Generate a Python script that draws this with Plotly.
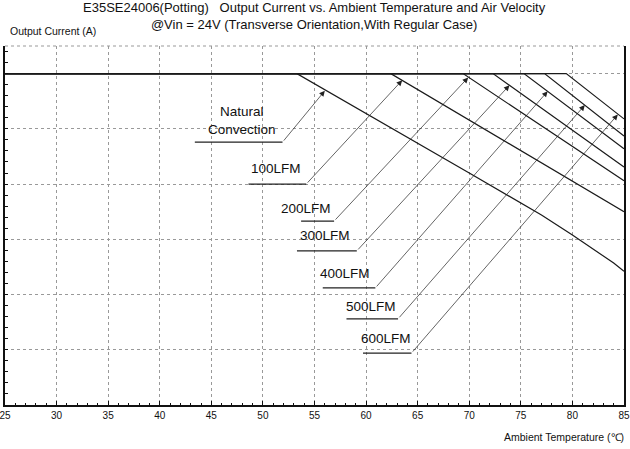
import plotly.graph_objects as go

# derating curves: ambient temperature (C) vs output current (A)
series_names = ['Natural Convection', '100LFM', '200LFM', '300LFM', '400LFM', '500LFM', '600LFM']
natural_t = [25, 53.3, 70, 74, 77, 80, 82, 84, 85]
natural_i = [6, 6, 4.2, 3.77, 3.44, 3.08, 2.83, 2.57, 2.42]
lfm100_t = [25, 62.4, 85]
lfm100_i = [6, 6, 3.5]
lfm200_t = [25, 69.4, 85]
lfm200_i = [6, 6, 4.06]
lfm300_t = [25, 72.3, 85]
lfm300_i = [6, 6, 4.31]
lfm400_t = [25, 75.3, 85]
lfm400_i = [6, 6, 4.64]
lfm500_t = [25, 77.3, 85]
lfm500_i = [6, 6, 4.87]
lfm600_t = [25, 79.4, 85]
lfm600_i = [6, 6, 5.18]

x_ticks = [25, 30, 35, 40, 45, 50, 55, 60, 65, 70, 75, 80, 85]

curves = [(natural_t, natural_i), (lfm100_t, lfm100_i), (lfm200_t, lfm200_i),
          (lfm300_t, lfm300_i), (lfm400_t, lfm400_i), (lfm500_t, lfm500_i),
          (lfm600_t, lfm600_i)]

# label callouts: text position, underline (x0, x1, y), arrow tip on curve
label_text = ['Natural<br>Convection', '100LFM', '200LFM', '300LFM', '400LFM', '500LFM', '600LFM']
label_pos = [(48.0, 5.16), (51.3, 4.28), (54.2, 3.55), (56.0, 3.06), (58.0, 2.39), (60.5, 1.79), (61.9, 1.20)]
underline = [(43.4, 51.9, 4.76), (48.6, 54.2, 4.0), (53.7, 56.9, 3.33), (53.3, 59.1, 2.79),
             (55.8, 60.9, 2.12), (58.1, 63.1, 1.56), (59.7, 64.4, 0.94)]
arrow_tip = [(56.0, 5.69), (63.5, 5.88), (69.9, 5.93), (73.9, 5.79), (77.6, 5.68), (81.2, 5.43), (84.4, 5.26)]

FONT = 'Liberation Sans, Arial, sans-serif'

fig = go.Figure()
for name, (t, i) in zip(series_names, curves):
    fig.add_trace(go.Scatter(x=t, y=i, mode='lines', name=name,
                             line=dict(color='#1a1a1a', width=1.2), showlegend=False))

annotations = []
shapes = []
for txt, (lx, ly), (u0, u1, uy), (ax_, ay_) in zip(label_text, label_pos, underline, arrow_tip):
    annotations.append(dict(x=lx, y=ly, xref='x', yref='y', text=txt, showarrow=False,
                            font=dict(family=FONT, size=13.5, color='#111')))
    shapes.append(dict(type='line', xref='x', yref='y', x0=u0, x1=u1, y0=uy, y1=uy,
                       line=dict(color='#222', width=1.2)))
    annotations.append(dict(x=ax_, y=ay_, xref='x', yref='y', ax=u1, ay=uy, axref='x', ayref='y',
                            text='', showarrow=True, arrowhead=2, arrowsize=1.6, arrowwidth=0.7,
                            arrowcolor='#222', standoff=0, startstandoff=0))

annotations.append(dict(x=0.5, y=1.083, xref='paper', yref='paper', showarrow=False,
                        xanchor='center', yanchor='middle',
                        text='E35SE24006(Potting)   Output Current vs. Ambient Temperature and Air Velocity'
                             '<br>@Vin = 24V (Transverse Orientation,With Regular Case)',
                        font=dict(family=FONT, size=13, color='#111'), align='center'))
annotations.append(dict(x=0.005, y=1.042, xref='paper', yref='paper', showarrow=False,
                        xanchor='left', yanchor='middle', text='Output Current (A)',
                        font=dict(family=FONT, size=10.5, color='#111')))
annotations.append(dict(x=1.004, y=-0.089, xref='paper', yref='paper', showarrow=False,
                        xanchor='right', yanchor='middle', text='Ambient Temperature (℃)',
                        font=dict(family=FONT, size=10.5, color='#111')))

# top border of the plot area
shapes.append(dict(type='line', xref='paper', yref='paper', x0=0, x1=1, y0=1, y1=1,
                   line=dict(color='#999', width=1, dash='dot')))

fig.update_layout(
    width=630, height=449,
    margin=dict(l=5, r=6, t=46, b=44),
    paper_bgcolor='white', plot_bgcolor='white',
    annotations=annotations, shapes=shapes,
    xaxis=dict(range=[25, 85], tickvals=x_ticks, ticks='inside', ticklen=4, tickcolor='#111',
               automargin=False, ticklabeloverflow='allow',
               showgrid=True, gridcolor='#999', griddash='dot', gridwidth=1,
               showline=True, linecolor='#111', linewidth=1.5, zeroline=False,
               minor=dict(dtick=1, ticks='inside', ticklen=2.5, tickcolor='#111', showgrid=False),
               tickfont=dict(family=FONT, size=10, color='#111')),
    yaxis=dict(range=[0, 6.5], dtick=1, tick0=0, ticks='inside', ticklen=3, tickcolor='#111',
               showticklabels=False, automargin=False,
               showgrid=True, gridcolor='#999', griddash='dot', gridwidth=1,
               showline=True, linecolor='#111', linewidth=1.5, mirror=True, zeroline=False,
               minor=dict(dtick=0.2, ticks='inside', ticklen=3, tickcolor='#111', showgrid=False)),
)

# drop the default page margin so the figure sits at the window's corner
fig.write_html("out.html", config={'displayModeBar': False},
               post_script="document.body.style.margin='0';")
